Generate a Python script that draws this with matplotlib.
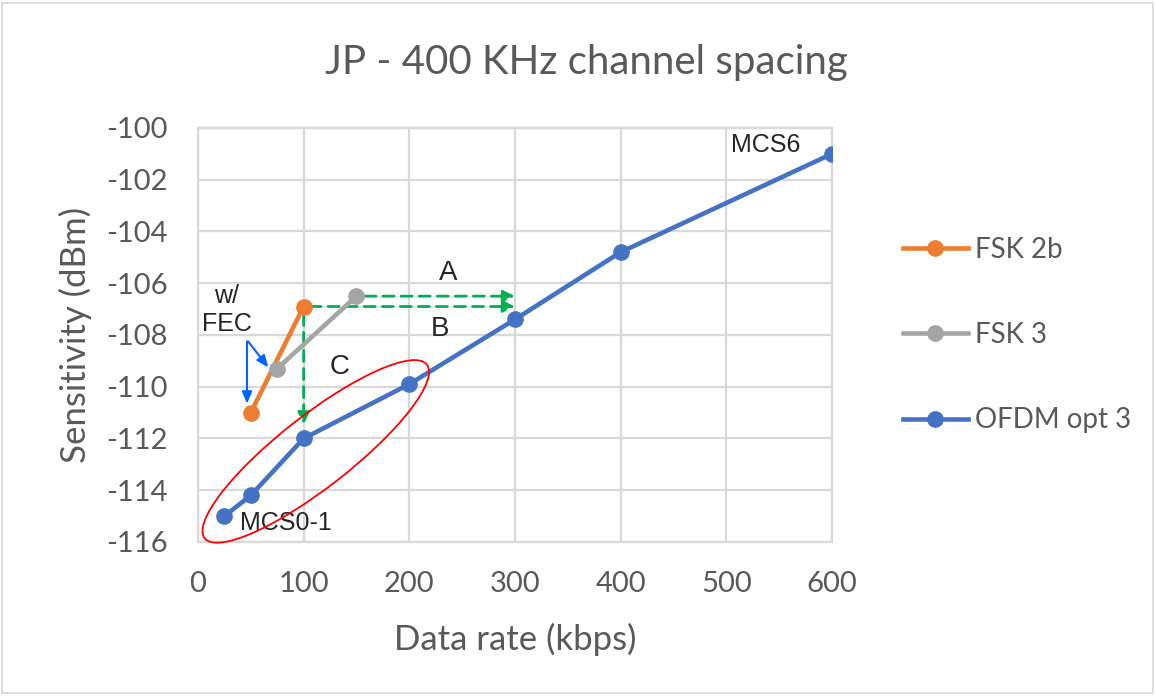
import matplotlib.pyplot as plt
import matplotlib.transforms as mtransforms
from matplotlib.patches import Ellipse, Rectangle

fsk2b_rate = [50, 100]
fsk2b_sens = [-111.0, -106.9]
fsk3_rate = [75, 150]
fsk3_sens = [-109.3, -106.5]
ofdm_rate = [25, 50, 100, 200, 300, 400, 600]
ofdm_sens = [-115.0, -114.2, -112.0, -109.9, -107.4, -104.8, -101.0]

xticks = [0, 100, 200, 300, 400, 500, 600]
yticks = [-116, -114, -112, -110, -108, -106, -104, -102, -100]

TXT = '#595959'
GRID = '#D9D9D9'
plt.rcParams['font.family'] = ['Lato', 'DejaVu Sans']
plt.rcParams['axes.unicode_minus'] = False

fig = plt.figure(figsize=(11.55, 6.97), dpi=100)
fig.patches.append(Rectangle((0.002, 0.006), 0.996, 0.99, transform=fig.transFigure,
                             fill=False, edgecolor=GRID, linewidth=1.2))
ax = fig.add_axes([0.1714, 0.2224, 0.5489, 0.594])

ax.plot(fsk2b_rate, fsk2b_sens, color='#ED7D31', lw=3.3, marker='o', ms=11, label='FSK 2b', zorder=4)
ax.plot(fsk3_rate, fsk3_sens, color='#A5A5A5', lw=3.3, marker='o', ms=11, label='FSK 3', zorder=4)
ax.plot(ofdm_rate, ofdm_sens, color='#4472C4', lw=3.3, marker='o', ms=11, label='OFDM opt 3', zorder=4)

ax.set_xlim(0, 600)
ax.set_ylim(-116, -100)
ax.set_xticks(xticks)
ax.set_yticks(yticks)
ax.grid(True, color=GRID, lw=1.6)
ax.set_axisbelow(True)
for s in ax.spines.values():
    s.set_color(GRID)
    s.set_linewidth(1.6)
ax.tick_params(length=0, labelsize=21, colors=TXT)
ax.tick_params(axis='y', pad=22)
ax.tick_params(axis='x', pad=21)
ax.set_xlabel('Data rate (kbps)', fontsize=25, color=TXT)
ax.set_ylabel('Sensitivity (dBm)', fontsize=25, color=TXT)
ax.xaxis.set_label_coords(0.5, -0.195)
ax.yaxis.set_label_coords(-0.167, 0.5)
fig.text(0.508, 0.91, 'JP - 400 KHz channel spacing', ha='center', va='center',
         fontsize=29, color=TXT)

# green dashed arrows A, B, C
green = dict(arrowstyle='-|>,head_length=0.7,head_width=0.35', color='#00B050', lw=2,
             linestyle=(0, (4, 2.5)), shrinkA=0, shrinkB=0)
ax.annotate('', xy=(300, fsk3_sens[1]), xytext=(fsk3_rate[1] + 8, fsk3_sens[1]), arrowprops=green)
ax.annotate('', xy=(300, fsk2b_sens[1]), xytext=(fsk2b_rate[1] + 6, fsk2b_sens[1]), arrowprops=green)
ax.annotate('', xy=(100, -111.45), xytext=(100, -107.2), arrowprops=green)

# blue FEC arrows
blue = dict(arrowstyle='-|>,head_length=0.7,head_width=0.3', color='#0066FF', lw=1.5,
            shrinkA=0, shrinkB=0)
ax.annotate('', xy=(46.4, -110.65), xytext=(46.4, -108.25), arrowprops=blue)
ax.annotate('', xy=(66.5, -109.25), xytext=(47.5, -108.25), arrowprops=blue)

arial = ['Liberation Sans', 'DejaVu Sans']
ax.text(237, -105.6, 'A', ha='center', va='center', family=arial, color='#262626', fontsize=20)
ax.text(229, -107.75, 'B', ha='center', va='center', family=arial, color='#262626', fontsize=20)
ax.text(134, -109.25, 'C', ha='center', va='center', family=arial, color='#262626', fontsize=20)
ax.text(27, -107.05, 'w/\nFEC', ha='center', va='center', linespacing=1.2,
        family=arial, color='#262626', fontsize=18)
ax.text(570, -100.65, 'MCS6', ha='right', va='center', family=arial, color='#262626', fontsize=18)
ax.text(40, -115.25, 'MCS0-1', ha='left', va='center', family=arial, color='#262626', fontsize=18)

# red ellipse around low MCS points (size in pixels)
tr = mtransforms.IdentityTransform() + mtransforms.ScaledTranslation(111.5, -112.5, ax.transData)
ax.add_patch(Ellipse((0, 0), 282, 72, angle=38, transform=tr, fill=False,
                     edgecolor='#FF0000', lw=1.3, zorder=5, clip_on=False))

ax.legend(loc='center left', bbox_to_anchor=(1.072, 0.5), frameon=False, fontsize=20,
          labelcolor=TXT, labelspacing=2.14, handlelength=2.34, handletextpad=0.25)

fig.savefig('out.png', dpi=100)
